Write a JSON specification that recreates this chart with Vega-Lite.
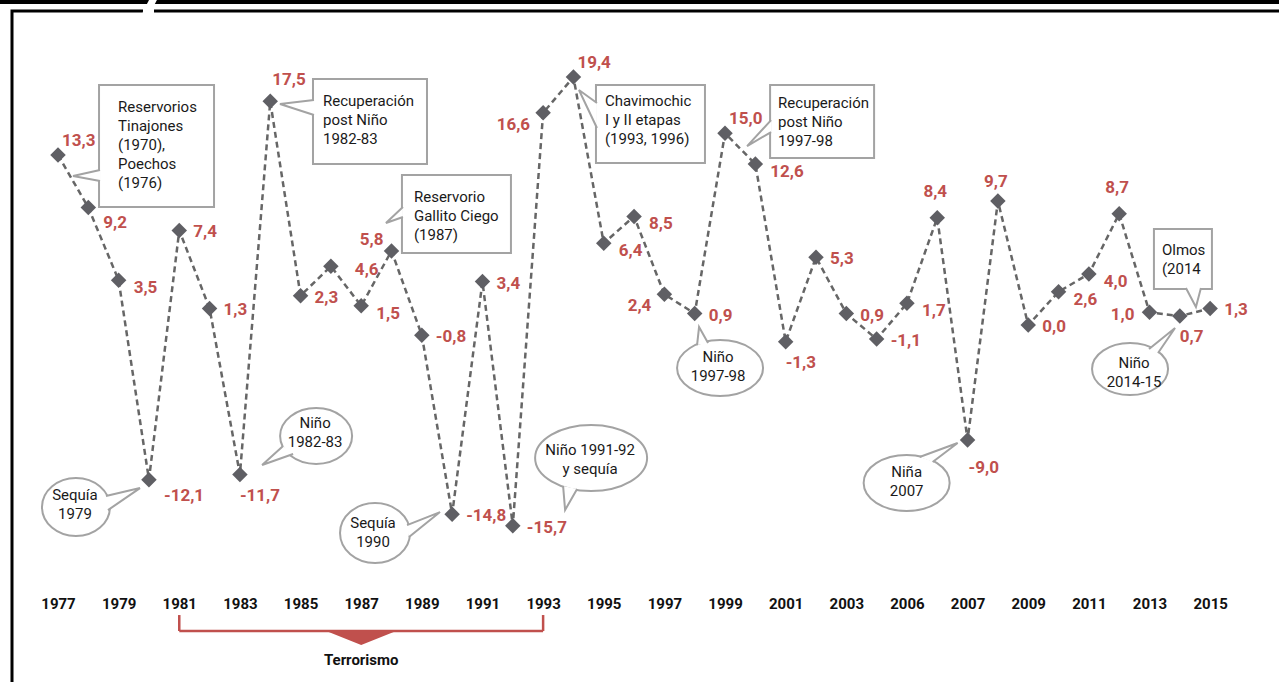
{
  "$schema": "https://vega.github.io/schema/vega-lite/v6.json",
  "width": 1267,
  "height": 671,
  "autosize": {"type": "none"},
  "padding": {"left": 12, "top": 11, "right": 0, "bottom": 0},
  "background": "white",
  "config": {
    "view": {"stroke": "#000000", "strokeWidth": 3, "strokeDash": [131, 11, 1125, 1938, 671]},
    "locale": {"number": {"decimal": ",", "thousands": ".", "grouping": [3], "currency": ["", ""], "minus": "-"}}
  },
  "datasets": {
    "series": [
      {"year": 1977, "value": 13.3}, {"year": 1978, "value": 9.2}, {"year": 1979, "value": 3.5},
      {"year": 1980, "value": -12.1}, {"year": 1981, "value": 7.4}, {"year": 1982, "value": 1.3},
      {"year": 1983, "value": -11.7}, {"year": 1984, "value": 17.5}, {"year": 1985, "value": 2.3},
      {"year": 1986, "value": 4.6}, {"year": 1987, "value": 1.5}, {"year": 1988, "value": 5.8},
      {"year": 1989, "value": -0.8}, {"year": 1990, "value": -14.8}, {"year": 1991, "value": 3.4},
      {"year": 1992, "value": -15.7}, {"year": 1993, "value": 16.6}, {"year": 1994, "value": 19.4},
      {"year": 1995, "value": 6.4}, {"year": 1996, "value": 8.5}, {"year": 1997, "value": 2.4},
      {"year": 1998, "value": 0.9}, {"year": 1999, "value": 15.0}, {"year": 2000, "value": 12.6},
      {"year": 2001, "value": -1.3}, {"year": 2002, "value": 5.3}, {"year": 2003, "value": 0.9},
      {"year": 2004, "value": -1.1}, {"year": 2005, "value": 1.7}, {"year": 2006, "value": 8.4},
      {"year": 2007, "value": -9.0}, {"year": 2008, "value": 9.7}, {"year": 2009, "value": 0.0},
      {"year": 2010, "value": 2.6}, {"year": 2011, "value": 4.0}, {"year": 2012, "value": 8.7},
      {"year": 2013, "value": 1.0}, {"year": 2014, "value": 0.7}, {"year": 2015, "value": 1.3}
    ],
    "notes": [
      {"id": "r1", "kind": "box", "label": "Reservorios\nTinajones\n(1970),\nPoechos\n(1976)", "year": 1978.98, "value": 14.08},
      {"id": "r2", "kind": "box", "label": "Recuperación\npost Niño\n1982-83", "year": 1985.74, "value": 16.04},
      {"id": "r3", "kind": "box", "label": "Reservorio\nGallito Ciego\n(1987)", "year": 1988.74, "value": 8.53},
      {"id": "r4", "kind": "box", "label": "Chavimochic\nI y II etapas\n(1993, 1996)", "year": 1995.04, "value": 16.04},
      {"id": "r5", "kind": "box", "label": "Recuperación\npost Niño\n1997-98", "year": 2000.75, "value": 15.88},
      {"id": "r6", "kind": "box", "label": "Olmos\n(2014", "year": 2013.41, "value": 5.09},
      {"id": "e1", "kind": "bubble", "label": "Sequía\n1979", "year": 1977.56, "value": -14.01},
      {"id": "e2", "kind": "bubble", "label": "Niño\n1982-83", "year": 1985.48, "value": -8.37},
      {"id": "e3", "kind": "bubble", "label": "Sequía\n1990", "year": 1987.39, "value": -16.2},
      {"id": "e4", "kind": "bubble", "label": "Niño 1991-92\ny sequía", "year": 1994.55, "value": -10.56},
      {"id": "e5", "kind": "bubble", "label": "Niño\n1997-98", "year": 1998.77, "value": -3.21},
      {"id": "e6", "kind": "bubble", "label": "Niña\n2007", "year": 2004.99, "value": -12.28},
      {"id": "e7", "kind": "bubble", "label": "Niño\n2014-15", "year": 2012.49, "value": -3.68}
    ],
    "periods": [{"from": 1981, "to": 1993, "label": "Terrorismo"}]
  },
  "data": {"name": "series"},
  "resolve": {"scale": {"shape": "independent"}},
  "layer": [
    {
      "encoding": {
        "x": {
          "field": "year", "type": "quantitative", "title": null,
          "scale": {"domain": [1975.483, 2017.271], "nice": false, "zero": false},
          "axis": {
            "values": [1977, 1979, 1981, 1983, 1985, 1987, 1989, 1991, 1993, 1995, 1997, 1999, 2001, 2003, 2005, 2007, 2009, 2011, 2013, 2015],
            "format": "d",
            "labelExpr": "datum.value == 2005 ? '2006' : datum.label",
            "labelFont": "Roboto",
            "labelFontSize": 15,
            "labelFontWeight": "bold",
            "labelColor": "#111111",
            "domain": false, "ticks": false, "grid": false,
            "labelPadding": 0, "offset": -86, "title": null,
            "labelFlush": false, "labelOverlap": false
          }
        },
        "y": {
          "field": "value", "type": "quantitative", "title": null,
          "scale": {"domain": [-27.93, 24.57], "nice": false, "zero": false},
          "axis": null
        }
      },
      "layer": [
        {"mark": {"type": "line", "color": "#666666", "strokeWidth": 2.5, "strokeDash": [6, 4]}},
        {"mark": {"type": "point", "shape": "diamond", "filled": true, "color": "#5f5f64", "size": 240, "opacity": 1}}
      ]
    },
    {
      "data": {"values": [{}]},
      "mark": {"type": "rule", "color": "#000000", "strokeWidth": 5},
      "encoding": {
        "x": {"datum": 1975, "type": "quantitative", "title": null, "scale": {"domain": [1975.483, 2017.271], "nice": false, "zero": false}},
        "x2": {"datum": 2018},
        "y": {"datum": 25.313, "type": "quantitative", "title": null, "scale": {"domain": [-27.93, 24.57], "nice": false, "zero": false}, "axis": null}
      }
    },
    {
      "data": {"values": [{}]},
      "mark": {"type": "rule", "color": "#ffffff", "strokeWidth": 7},
      "encoding": {
        "x": {"datum": 1980.17, "type": "quantitative", "title": null, "scale": {"domain": [1975.483, 2017.271], "nice": false, "zero": false}},
        "x2": {"datum": 1979.89},
        "y": {"datum": 25.6, "type": "quantitative", "title": null, "scale": {"domain": [-27.93, 24.57], "nice": false, "zero": false}, "axis": null},
        "y2": {"datum": 24.33}
      }
    },
    {
      "data": {"name": "notes"},
      "mark": {"type": "point", "filled": true, "fill": "#ffffff", "stroke": "#a3a3a3", "strokeWidth": 2, "size": 40000, "opacity": 1, "fillOpacity": 1},
      "encoding": {
        "x": {"field": "year", "type": "quantitative", "title": null, "scale": {"domain": [1975.483, 2017.271], "nice": false, "zero": false}},
        "y": {"field": "value", "type": "quantitative", "title": null, "scale": {"domain": [-27.93, 24.57], "nice": false, "zero": false}, "axis": null},
        "shape": {
          "field": "id", "type": "nominal", "legend": null,
          "scale": {
            "domain": ["r1", "r2", "r3", "r4", "r5", "r6", "e1", "e2", "e3", "e4", "e5", "e6", "e7"],
            "range": [
              "M-0.19,-0.6H0.96V0.62H-0.19Z",
              "M-0.1,-0.41H1.04V0.44H-0.1Z",
              "M-0.12,-0.41H0.97V0.37H-0.12Z",
              "M-0.09,-0.35H1V0.43H-0.09Z",
              "M-0.08,-0.37H0.96V0.36H-0.08Z",
              "M-0.08,-0.31H0.5V0.29H-0.08Z",
              "M0.35,0.03C0.35,0.19 0.198,0.32 0.01,0.32C-0.178,0.32 -0.33,0.19 -0.33,0.03C-0.33,-0.13 -0.178,-0.26 0.01,-0.26C0.198,-0.26 0.35,-0.13 0.35,0.03Z",
              "M0.37,0.04C0.37,0.195 0.209,0.32 0.01,0.32C-0.189,0.32 -0.35,0.195 -0.35,0.04C-0.35,-0.115 -0.189,-0.24 0.01,-0.24C0.209,-0.24 0.37,-0.115 0.37,0.04Z",
              "M0.37,0.01C0.37,0.176 0.213,0.31 0.02,0.31C-0.173,0.31 -0.33,0.176 -0.33,0.01C-0.33,-0.156 -0.173,-0.29 0.02,-0.29C0.213,-0.29 0.37,-0.156 0.37,0.01Z",
              "M0.57,-0.02C0.57,0.162 0.319,0.31 0.01,0.31C-0.299,0.31 -0.55,0.162 -0.55,-0.02C-0.55,-0.202 -0.299,-0.35 0.01,-0.35C0.319,-0.35 0.57,-0.202 0.57,-0.02Z",
              "M0.45,0.02C0.45,0.175 0.258,0.3 0.02,0.3C-0.218,0.3 -0.41,0.175 -0.41,0.02C-0.41,-0.135 -0.218,-0.26 0.02,-0.26C0.258,-0.26 0.45,-0.135 0.45,0.02Z",
              "M0.43,0.01C0.43,0.165 0.238,0.29 0,0.29C-0.238,0.29 -0.43,0.165 -0.43,0.01C-0.43,-0.145 -0.238,-0.27 0,-0.27C0.238,-0.27 0.43,-0.145 0.43,0.01Z",
              "M0.34,-0.03C0.34,0.114 0.17,0.23 -0.04,0.23C-0.25,0.23 -0.42,0.114 -0.42,-0.03C-0.42,-0.174 -0.25,-0.29 -0.04,-0.29C0.17,-0.29 0.34,-0.174 0.34,-0.03Z"
            ]
          }
        }
      }
    },
    {
      "data": {"name": "notes"},
      "mark": {"type": "point", "filled": true, "fill": "#ffffff", "stroke": "#a3a3a3", "strokeWidth": 2, "size": 40000, "opacity": 1, "fillOpacity": 1},
      "encoding": {
        "x": {"field": "year", "type": "quantitative", "title": null, "scale": {"domain": [1975.483, 2017.271], "nice": false, "zero": false}},
        "y": {"field": "value", "type": "quantitative", "title": null, "scale": {"domain": [-27.93, 24.57], "nice": false, "zero": false}, "axis": null},
        "shape": {
          "field": "id", "type": "nominal", "legend": null,
          "scale": {
            "domain": ["r1", "r2", "r3", "r4", "r5", "r6", "e1", "e2", "e3", "e4", "e5", "e6", "e7"],
            "range": [
              "M-0.18,0.25L-0.45,0.31L-0.18,0.36",
              "M-0.09,-0.2L-0.43,-0.16L-0.09,-0.05",
              "M-0.11,-0.09L-0.28,0.07L-0.11,0.01",
              "M-0.08,-0.17L-0.26,-0.3L-0.08,0.08",
              "M-0.07,-0.02L-0.31,0.24L-0.07,0.1",
              "M0.24,0.28L0.34,0.47L0.39,0.28",
              "M0.31,-0.08L0.65,-0.16L0.33,0.06",
              "M-0.32,0.14L-0.53,0.33L-0.22,0.22",
              "M0.34,-0.07L0.67,-0.2L0.36,0.05",
              "M-0.27,0.26L-0.25,0.5L-0.13,0.29",
              "M-0.21,-0.21L-0.19,-0.39L-0.1,-0.23",
              "M0.13,-0.25L0.51,-0.39L0.26,-0.2",
              "M0.15,-0.23L0.41,-0.44L0.24,-0.19"
            ]
          }
        }
      }
    },
    {
      "data": {"name": "notes"},
      "encoding": {
        "x": {"field": "year", "type": "quantitative", "title": null, "scale": {"domain": [1975.483, 2017.271], "nice": false, "zero": false}},
        "y": {"field": "value", "type": "quantitative", "title": null, "scale": {"domain": [-27.93, 24.57], "nice": false, "zero": false}, "axis": null},
        "text": {"field": "label"}
      },
      "layer": [
        {
          "transform": [{"filter": {"field": "id", "oneOf": ["r1"]}}],
          "mark": {"type": "text", "align": "left", "baseline": "middle", "dy": -38, "font": "Roboto", "fontSize": 15, "lineHeight": 19, "lineBreak": "\n", "color": "#1a1a1a"}
        },
        {
          "transform": [{"filter": {"field": "id", "oneOf": ["r2", "r3", "r4", "r5"]}}],
          "mark": {"type": "text", "align": "left", "baseline": "middle", "dy": -19, "font": "Roboto", "fontSize": 15, "lineHeight": 19, "lineBreak": "\n", "color": "#1a1a1a"}
        },
        {
          "transform": [{"filter": {"field": "id", "oneOf": ["r6"]}}],
          "mark": {"type": "text", "align": "left", "baseline": "middle", "dy": -9.5, "font": "Roboto", "fontSize": 15, "lineHeight": 19, "lineBreak": "\n", "color": "#1a1a1a"}
        },
        {
          "transform": [{"filter": "datum.kind == 'bubble'"}],
          "mark": {"type": "text", "align": "center", "baseline": "middle", "dy": -9.5, "font": "Roboto", "fontSize": 15, "lineHeight": 19, "lineBreak": "\n", "color": "#1a1a1a"}
        }
      ]
    },
    {
      "encoding": {
        "x": {"field": "year", "type": "quantitative", "title": null, "scale": {"domain": [1975.483, 2017.271], "nice": false, "zero": false}},
        "y": {"field": "value", "type": "quantitative", "title": null, "scale": {"domain": [-27.93, 24.57], "nice": false, "zero": false}, "axis": null},
        "text": {"field": "value", "type": "quantitative", "format": ".1f"}
      },
      "layer": [
        {
          "transform": [{"filter": {"field": "year", "oneOf": [1981, 1982, 1985, 1989, 1990, 1991, 1992, 1998, 2002, 2003, 2004, 2009, 2015]}}],
          "mark": {"type": "text", "align": "left", "baseline": "middle", "dx": 14, "dy": 2, "font": "Roboto", "fontSize": 17, "fontWeight": "bold", "color": "#c0504d"}
        },
        {
          "transform": [{"filter": {"field": "year", "oneOf": [1979, 1987, 1995, 1996, 2000, 2005, 2010, 2011]}}],
          "mark": {"type": "text", "align": "left", "baseline": "middle", "dx": 15, "dy": 8, "font": "Roboto", "fontSize": 17, "fontWeight": "bold", "color": "#c0504d"}
        },
        {
          "transform": [{"filter": {"field": "year", "oneOf": [1978, 1980]}}],
          "mark": {"type": "text", "align": "left", "baseline": "middle", "dx": 15, "dy": 16, "font": "Roboto", "fontSize": 17, "fontWeight": "bold", "color": "#c0504d"}
        },
        {
          "transform": [{"filter": {"field": "year", "oneOf": [1977, 1994, 1999]}}],
          "mark": {"type": "text", "align": "left", "baseline": "middle", "dx": 4, "dy": -14, "font": "Roboto", "fontSize": 17, "fontWeight": "bold", "color": "#c0504d"}
        },
        {
          "transform": [{"filter": {"field": "year", "oneOf": [1984]}}],
          "mark": {"type": "text", "align": "left", "baseline": "middle", "dx": 2, "dy": -21, "font": "Roboto", "fontSize": 17, "fontWeight": "bold", "color": "#c0504d"}
        },
        {
          "transform": [{"filter": {"field": "year", "oneOf": [1986]}}],
          "mark": {"type": "text", "align": "left", "baseline": "middle", "dx": 24, "dy": 4, "font": "Roboto", "fontSize": 17, "fontWeight": "bold", "color": "#c0504d"}
        },
        {
          "transform": [{"filter": {"field": "year", "oneOf": [1988]}}],
          "mark": {"type": "text", "align": "right", "baseline": "middle", "dx": -8, "dy": -11, "font": "Roboto", "fontSize": 17, "fontWeight": "bold", "color": "#c0504d"}
        },
        {
          "transform": [{"filter": {"field": "year", "oneOf": [1993, 1997]}}],
          "mark": {"type": "text", "align": "right", "baseline": "middle", "dx": -13, "dy": 12, "font": "Roboto", "fontSize": 17, "fontWeight": "bold", "color": "#c0504d"}
        },
        {
          "transform": [{"filter": {"field": "year", "oneOf": [2013]}}],
          "mark": {"type": "text", "align": "right", "baseline": "middle", "dx": -15, "dy": 3, "font": "Roboto", "fontSize": 17, "fontWeight": "bold", "color": "#c0504d"}
        },
        {
          "transform": [{"filter": {"field": "year", "oneOf": [1983, 2001, 2014]}}],
          "mark": {"type": "text", "align": "left", "baseline": "middle", "dx": 0, "dy": 21, "font": "Roboto", "fontSize": 17, "fontWeight": "bold", "color": "#c0504d"}
        },
        {
          "transform": [{"filter": {"field": "year", "oneOf": [2007]}}],
          "mark": {"type": "text", "align": "left", "baseline": "middle", "dx": 1, "dy": 28, "font": "Roboto", "fontSize": 17, "fontWeight": "bold", "color": "#c0504d"}
        },
        {
          "transform": [{"filter": {"field": "year", "oneOf": [2006, 2012]}}],
          "mark": {"type": "text", "align": "center", "baseline": "middle", "dx": -2, "dy": -26, "font": "Roboto", "fontSize": 17, "fontWeight": "bold", "color": "#c0504d"}
        },
        {
          "transform": [{"filter": {"field": "year", "oneOf": [2008]}}],
          "mark": {"type": "text", "align": "center", "baseline": "middle", "dx": -2, "dy": -19, "font": "Roboto", "fontSize": 17, "fontWeight": "bold", "color": "#c0504d"}
        }
      ]
    },
    {
      "data": {"name": "periods"},
      "mark": {"type": "rule", "color": "#c0504d", "strokeWidth": 2.5},
      "encoding": {
        "x": {"field": "from", "type": "quantitative", "title": null, "scale": {"domain": [1975.483, 2017.271], "nice": false, "zero": false}},
        "y": {"datum": -22.69, "type": "quantitative", "title": null, "scale": {"domain": [-27.93, 24.57], "nice": false, "zero": false}, "axis": null},
        "y2": {"datum": -23.94}
      }
    },
    {
      "data": {"name": "periods"},
      "mark": {"type": "rule", "color": "#c0504d", "strokeWidth": 2.5},
      "encoding": {
        "x": {"field": "to", "type": "quantitative", "title": null, "scale": {"domain": [1975.483, 2017.271], "nice": false, "zero": false}},
        "y": {"datum": -22.69, "type": "quantitative", "title": null, "scale": {"domain": [-27.93, 24.57], "nice": false, "zero": false}, "axis": null},
        "y2": {"datum": -23.94}
      }
    },
    {
      "data": {"name": "periods"},
      "mark": {"type": "rule", "color": "#c0504d", "strokeWidth": 2.5},
      "encoding": {
        "x": {"field": "from", "type": "quantitative", "title": null, "scale": {"domain": [1975.483, 2017.271], "nice": false, "zero": false}},
        "x2": {"field": "to"},
        "y": {"datum": -23.94, "type": "quantitative", "title": null, "scale": {"domain": [-27.93, 24.57], "nice": false, "zero": false}, "axis": null}
      }
    },
    {
      "data": {"name": "periods"},
      "mark": {"type": "point", "shape": "M-0.35,0L0,0.14L0.35,0Z", "filled": true, "color": "#c0504d", "size": 40000, "opacity": 1, "strokeWidth": 0},
      "encoding": {
        "x": {"datum": 1987, "type": "quantitative", "title": null, "scale": {"domain": [1975.483, 2017.271], "nice": false, "zero": false}},
        "y": {"datum": -23.94, "type": "quantitative", "title": null, "scale": {"domain": [-27.93, 24.57], "nice": false, "zero": false}, "axis": null}
      }
    },
    {
      "data": {"name": "periods"},
      "mark": {"type": "text", "align": "center", "baseline": "middle", "font": "Roboto", "fontSize": 15, "fontWeight": "bold", "color": "#111111"},
      "encoding": {
        "x": {"datum": 1987, "type": "quantitative", "title": null, "scale": {"domain": [1975.483, 2017.271], "nice": false, "zero": false}},
        "y": {"datum": -26.21, "type": "quantitative", "title": null, "scale": {"domain": [-27.93, 24.57], "nice": false, "zero": false}, "axis": null},
        "text": {"field": "label"}
      }
    }
  ]
}
